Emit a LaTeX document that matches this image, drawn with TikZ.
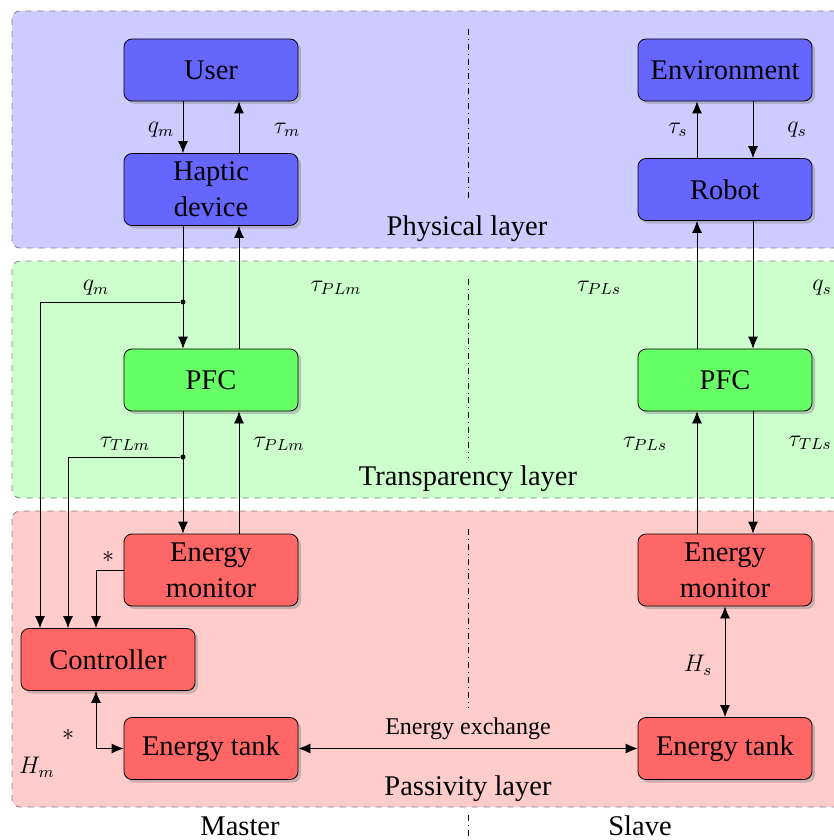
\documentclass[tikz,border=0pt]{standalone}
\usepackage{fontspec}
\setmainfont{Liberation Serif}
\usetikzlibrary{arrows.meta,shadows}

\begin{document}
\begin{tikzpicture}[x=0.5pt,y=-0.5pt,
  >={Latex[length=6pt,width=5pt]},
  layer/.style={draw=gray, dashed, rounded corners=4pt},
  block/.style={draw, rounded corners=4pt, minimum width=87pt, minimum height=31pt,
    inner sep=2pt, align=center, font=\rmfamily\fontsize{14.25}{18}\selectfont,
    drop shadow={shadow xshift=1.5pt, shadow yshift=-1.5pt, opacity=0.4}},
  twoline/.style={minimum height=36pt},
  phys/.style={block, fill=blue!60},
  trans/.style={block, fill=green!60},
  pass/.style={block, fill=red!60},
  lbl/.style={font=\fontsize{12}{14}\selectfont, inner sep=0pt},
  title/.style={font=\rmfamily\fontsize{14.25}{17}\selectfont, inner sep=0pt},
  sep/.style={dash dot, thin},
  dot/.style={circle, fill, inner sep=0pt, minimum size=2.5pt}
]
\clip (0,0) rectangle (834,840);

% layers
\fill[blue!20]  (12,11)  [rounded corners=4pt] rectangle (850,248);
\draw[layer]    (12,11)  rectangle (850,248);
\fill[green!20] (12,261) [rounded corners=4pt] rectangle (850,498);
\draw[layer]    (12,261) rectangle (850,498);
\fill[red!20]   (12,511) [rounded corners=4pt] rectangle (850,807);
\draw[layer]    (12,511) rectangle (850,807);

% master / slave separator
\draw[sep] (468,29)  -- (468,201);
\draw[sep] (468,279) -- (468,457);
\draw[sep] (468,529) -- (468,707);
\draw[sep] (468,815) -- (468,845);

% layer titles
\node[title] (tphys)  at (467,229) {Physical layer};
\node[title] (ttrans) at (468,479) {Transparency layer};
\node[title] (tpass)  at (468,789) {Passivity layer};
\node[title] (tmast)  at (240,826) {Master};
\node[title] (tslav)  at (640,826) {Slave};

% blocks
\node[phys] (user)   at (211,70)    {User};
\node[phys, twoline] (haptic) at (211,189.5) {Haptic\\device};
\node[phys] (env)    at (725,70)    {Environment};
\node[phys] (robot)  at (725,189.5) {Robot};
\node[trans] (pfcm)  at (211,380)   {PFC};
\node[trans] (pfcs)  at (725,380)   {PFC};
\node[pass, twoline] (monm) at (211,570) {Energy\\monitor};
\node[pass, twoline] (mons) at (725,570) {Energy\\monitor};
\node[pass] (ctrl)   at (108,659.5) {Controller};
\node[pass] (tankm)  at (211,748.5) {Energy tank};
\node[pass] (tanks)  at (725,748.5) {Energy tank};

% master side
\draw[->] ([xshift=-14pt]user.south)   -- ([xshift=-14pt]haptic.north);
\draw[->] ([xshift=14pt]haptic.north)  -- ([xshift=14pt]user.south);
\draw[->] ([xshift=-14pt]haptic.south) -- ([xshift=-14pt]pfcm.north);
\draw[->] ([xshift=14pt]pfcm.north)    -- ([xshift=14pt]haptic.south);
\draw[->] ([xshift=-14pt]pfcm.south)   -- ([xshift=-14pt]monm.north);
\draw[->] ([xshift=14pt]monm.north)    -- ([xshift=14pt]pfcm.south);
\node[dot] (jq) at (183,302) {};
\node[dot] (jt) at (183,457) {};
\draw[->] (jq) -| ([xshift=-34pt]ctrl.north);
\draw[->] (jt) -| ([xshift=-20pt]ctrl.north);
\draw[->] (monm.west) -| ([xshift=-6pt]ctrl.north);
\draw[<->] ([xshift=-6pt]ctrl.south) |- (tankm.west);
\draw[<->] (tankm.east) -- (tanks.west);

% slave side
\draw[->] ([xshift=-14pt]robot.north)  -- ([xshift=-14pt]env.south);
\draw[->] ([xshift=14pt]env.south)     -- ([xshift=14pt]robot.north);
\draw[->] ([xshift=14pt]robot.south)   -- ([xshift=14pt]pfcs.north);
\draw[->] ([xshift=-14pt]pfcs.north)   -- ([xshift=-14pt]robot.south);
\draw[->] ([xshift=14pt]pfcs.south)    -- ([xshift=14pt]mons.north);
\draw[->] ([xshift=-14pt]mons.north)   -- ([xshift=-14pt]pfcs.south);
\draw[<->] (mons.south) -- (tanks.north);

% signal labels
\node[lbl] (l1)  at (161,130) {$q_m$};
\node[lbl] (l2)  at (287,130) {$\tau_m$};
\node[lbl] (l3)  at (678,130) {$\tau_s$};
\node[lbl] (l4)  at (797,130) {$q_s$};
\node[lbl] (l5)  at (96,288)  {$q_m$};
\node[lbl] (l6)  at (336,288) {$\tau_{PLm}$};
\node[lbl] (l7)  at (599,288) {$\tau_{PLs}$};
\node[lbl] (l8)  at (822,288) {$q_s$};
\node[lbl] (l9)  at (125,444) {$\tau_{TLm}$};
\node[lbl] (l10) at (279,444) {$\tau_{PLm}$};
\node[lbl] (l11) at (645,444) {$\tau_{PLs}$};
\node[lbl] (l12) at (810,443) {$\tau_{TLs}$};
\node[lbl] (l13) at (108,557) {$*$};
\node[lbl] (l14) at (68,735)  {$*$};
\node[lbl] (l15) at (37,767)  {$H_m$};
\node[lbl] (l16) at (698,665) {$H_s$};
\node[lbl] (l17) at (468,729) {Energy exchange};
\end{tikzpicture}
\end{document}
